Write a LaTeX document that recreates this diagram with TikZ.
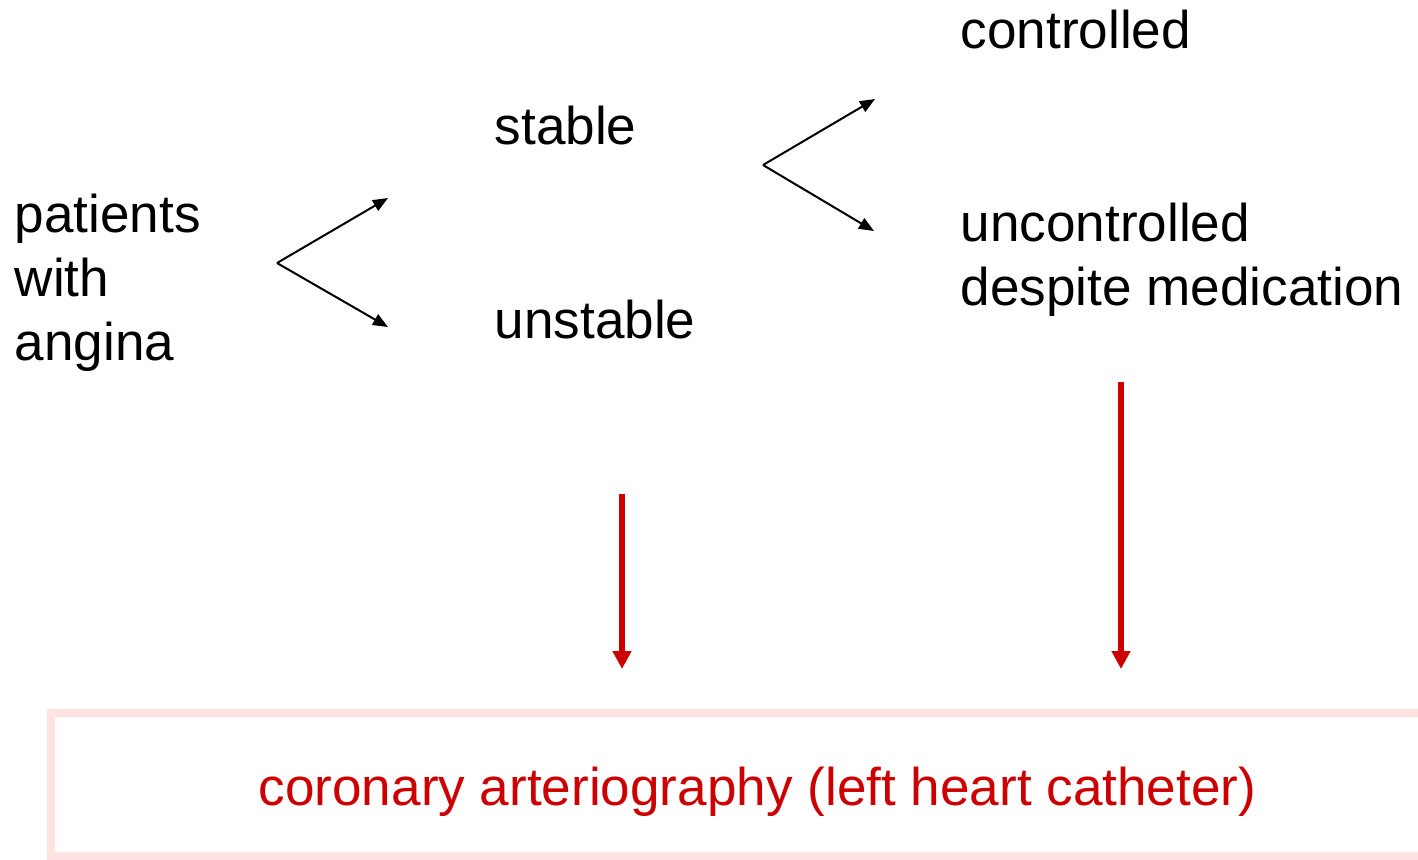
\documentclass[tikz,border=0pt]{standalone}
\usepackage{fontspec}
\setmainfont{Liberation Sans}
\usetikzlibrary{arrows.meta}
\definecolor{darkred}{HTML}{CC0000}
\definecolor{palepink}{HTML}{FFE3E3}
\begin{document}
\begin{tikzpicture}[x=0.01cm,y=-0.01cm,
  lbl/.style={anchor=base west,inner sep=0pt,font=\fontsize{15.1}{18.2}\selectfont,align=left},
  blackarrow/.style={draw=black,line width=0.57pt,-{Triangle[length=0.15cm,width=0.12cm]}},
  redarrow/.style={draw=darkred,line width=1.7pt,-{Triangle[length=0.18cm,width=0.18cm]}},
  resultbox/.style={draw=palepink,line width=2.27pt,minimum width=14.13cm,minimum height=1.43cm,inner sep=0pt},
  resultlabel/.style={inner sep=0pt,text=darkred,font=\fontsize{15.1}{18.2}\selectfont}]
\useasboundingbox (0,0) rectangle (1418,859);
\clip (0,0) rectangle (1418,859);
% text nodes
\node[lbl] (patients) at (14,360) {patients\\with\\angina};
\node[lbl] (stable) at (494,144) {stable};
\node[lbl] (unstable) at (494,338) {unstable};
\node[lbl] (controlled) at (960,48) {controlled};
\node[lbl] (uncontrolled) at (960,305) {uncontrolled\\despite medication};
\node[resultbox] (box) at (757.5,784.5) {};
\node[resultlabel] (boxlabel) at (757.5,791.5) {coronary arteriography (left heart catheter)};
% fork coordinates
\coordinate (f1) at (277,263);
\coordinate (f1a) at (388,198);
\coordinate (f1b) at (388,327);
\coordinate (f2) at (763,165);
\coordinate (f2a) at (875,99);
\coordinate (f2b) at (874,231);
\draw[blackarrow] (f1) -- (f1a);
\draw[blackarrow] (f1) -- (f1b);
\draw[blackarrow] (f2) -- (f2a);
\draw[blackarrow] (f2) -- (f2b);
% red arrows
\coordinate (r1s) at (622,494);
\coordinate (r1e) at (622,669);
\coordinate (r2s) at (1121,382);
\coordinate (r2e) at (1121,669);
\draw[redarrow] (r1s) -- (r1e);
\draw[redarrow] (r2s) -- (r2e);
\end{tikzpicture}
\end{document}
